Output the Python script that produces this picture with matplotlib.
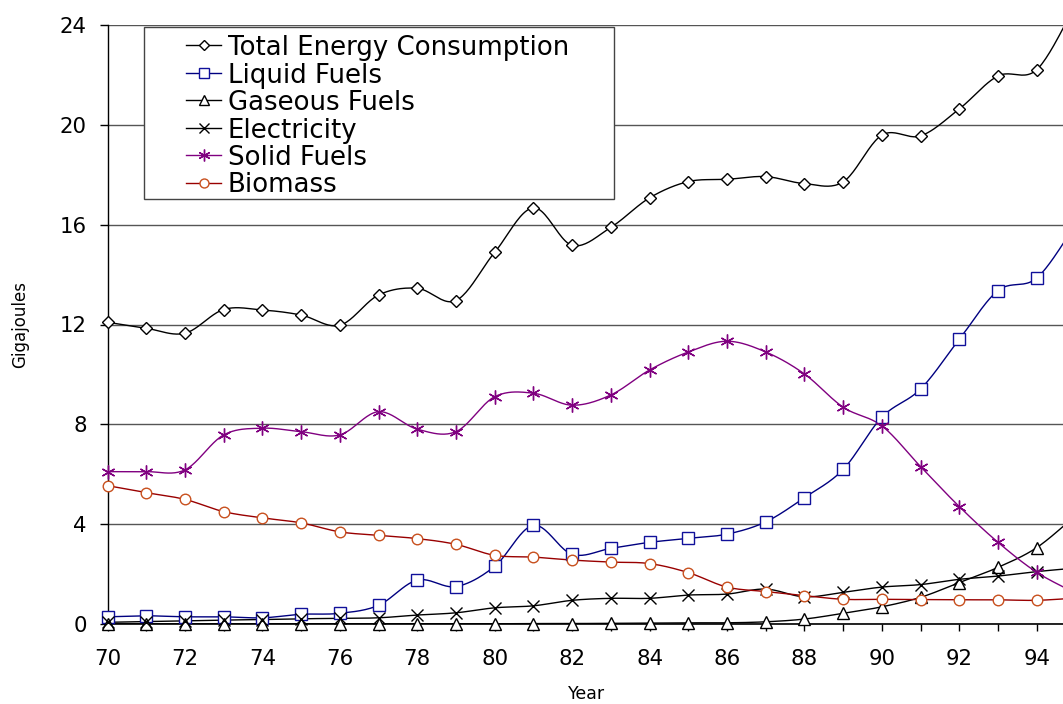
import numpy as np
import matplotlib
matplotlib.use("Agg")
import matplotlib.pyplot as plt
from matplotlib.patches import Rectangle

plt.rcParams['font.family'] = ['DejaVu Sans']

# ---------------- data ----------------
years = list(range(70, 96))
total_energy = [12.09, 11.85, 11.65, 12.60, 12.58, 12.38, 11.97, 13.18, 13.45, 12.96,
                14.89, 16.67, 15.17, 15.89, 17.07, 17.72, 17.81, 17.92, 17.64, 17.71,
                19.58, 19.55, 20.63, 21.95, 22.20, 24.80]
liquid_fuels = [0.30, 0.34, 0.30, 0.30, 0.26, 0.40, 0.44, 0.76, 1.77, 1.51,
                2.32, 3.96, 2.80, 3.04, 3.28, 3.44, 3.61, 4.10, 5.07, 6.20,
                8.29, 9.42, 11.41, 13.36, 13.86, 16.00]
gaseous_fuels = [0.02, 0.02, 0.02, 0.02, 0.02, 0.02, 0.02, 0.02, 0.02, 0.02,
                 0.02, 0.03, 0.03, 0.04, 0.05, 0.06, 0.06, 0.10, 0.21, 0.44,
                 0.70, 1.08, 1.67, 2.28, 3.07, 4.35]
electricity = [0.08, 0.11, 0.14, 0.17, 0.19, 0.22, 0.24, 0.26, 0.37, 0.46,
               0.66, 0.74, 0.96, 1.04, 1.04, 1.17, 1.21, 1.41, 1.10, 1.28,
               1.49, 1.59, 1.80, 1.93, 2.11, 2.25]
solid_fuels = [6.11, 6.11, 6.18, 7.58, 7.85, 7.71, 7.58, 8.51, 7.81, 7.71,
               9.11, 9.25, 8.77, 9.18, 10.18, 10.90, 11.33, 10.90, 10.02, 8.69,
               7.94, 6.31, 4.71, 3.28, 2.08, 1.25]
biomass = [5.55, 5.27, 5.00, 4.51, 4.26, 4.06, 3.70, 3.56, 3.43, 3.20,
           2.76, 2.69, 2.57, 2.49, 2.43, 2.07, 1.49, 1.31, 1.15, 1.00,
           1.00, 0.99, 0.98, 0.98, 0.96, 1.05]

series_names = ["Total Energy Consumption", "Liquid Fuels", "Gaseous Fuels",
                "Electricity", "Solid Fuels", "Biomass"]
series_values = [total_energy, liquid_fuels, gaseous_fuels, electricity, solid_fuels, biomass]
y_ticks = [0, 4, 8, 12, 16, 20, 24]
x_label_ticks = list(range(70, 96, 2))

# ---------------- styles ----------------
styles = [
    dict(color="black", marker="D", ms=6.5, mfc="white", mec="black"),
    dict(color="#000080", marker="s", ms=8.0, mfc="white", mec="#10109A"),
    dict(color="black", marker="^", ms=8.5, mfc="white", mec="black"),
    dict(color="black", marker="x", ms=8.0, mfc="black", mec="black"),
    dict(color="#800080", marker=(6, 2, 0), ms=10, mfc="#800080", mec="#800080"),
    dict(color="#990000", marker="o", ms=7.6, mfc="white", mec="#C8501E"),
]


def smooth(x, y, n=24):
    """Excel-like smoothed line: cubic Bezier with Catmull-Rom control points."""
    P = np.column_stack([np.asarray(x, float), np.asarray(y, float)])
    out = []
    t = np.linspace(0, 1, n)[:, None]
    for i in range(len(P) - 1):
        p0 = P[i - 1] if i > 0 else P[i]
        p1, p2 = P[i], P[i + 1]
        p3 = P[i + 2] if i + 2 < len(P) else P[i + 1]
        c1 = p1 + (p2 - p0) / 6.0
        c2 = p2 - (p3 - p1) / 6.0
        seg = ((1 - t) ** 3) * p1 + 3 * ((1 - t) ** 2) * t * c1 + 3 * (1 - t) * t ** 2 * c2 + t ** 3 * p2
        out.append(seg if i == 0 else seg[1:])
    S = np.vstack(out)
    return S[:, 0], S[:, 1]


W, H = 1063, 704
fig = plt.figure(figsize=(W / 100, H / 100), dpi=100)

ax_left, ax_right, ax_top, ax_bot = 107.5, 1063, 24.7, 624.3
ax = fig.add_axes([ax_left / W, 1 - ax_bot / H, (ax_right - ax_left) / W, (ax_bot - ax_top) / H])

for vals, st in zip(series_values, styles):
    sx, sy = smooth(years, vals)
    ax.plot(sx, sy, color=st["color"], lw=1.0, zorder=3, solid_joinstyle="round")
    ax.plot(years, vals, linestyle="none", marker=st["marker"], ms=st["ms"],
            mfc=st["mfc"], mec=st["mec"], mew=1.0, zorder=4, clip_on=False)

ax.set_yticks(y_ticks)
ax.set_yticklabels([str(v) for v in y_ticks], fontsize=15.3)
ax.set_xticks(years)
ax.set_xticklabels([str(y) if y in x_label_ticks else "" for y in years], fontsize=15.3)
ax.set_xlim(70, 70 + (ax_right - ax_left) / 38.72)
ax.set_ylim(0, 24)
ax.tick_params(axis="y", direction="out", length=6, width=1, pad=9, colors="black")
ax.tick_params(axis="x", direction="out", length=5, width=1, pad=13, colors="black")

ax.grid(axis="y", color="#555555", lw=1.0, zorder=1)
ax.set_axisbelow(True)
for s in ["top", "right"]:
    ax.spines[s].set_visible(False)
ax.spines["left"].set_linewidth(1.0)
ax.spines["bottom"].set_linewidth(1.2)

fig.text(587 / W, 1 - 699 / H, "Year", ha="center", va="baseline", fontsize=12.5)
fig.text(20 / W, 1 - 325 / H, "Gigajoules", ha="center", va="center", rotation=90, fontsize=12)

# ---------------- legend (pixel-positioned overlay) ----------------
lax = fig.add_axes([0, 0, 1, 1], zorder=10)
lax.set_xlim(0, W)
lax.set_ylim(H, 0)
lax.axis("off")
lax.patch.set_alpha(0)
lax.add_patch(Rectangle((144, 27), 470, 172, facecolor="white", edgecolor="#444444", lw=1.0))
row_y0, row_dy = 45.3, 27.47
for i, (name, st) in enumerate(zip(series_names, styles)):
    yy = row_y0 + i * row_dy
    lax.plot([186, 221], [yy, yy], color=st["color"], lw=1.0)
    lax.plot([204], [yy], linestyle="none", marker=st["marker"], ms=st["ms"] * 0.85,
             mfc=st["mfc"], mec=st["mec"], mew=1.0)
    lax.text(228, yy + 9.8, name, fontsize=18.7, va="baseline", ha="left")

fig.savefig("out.png", dpi=100)
